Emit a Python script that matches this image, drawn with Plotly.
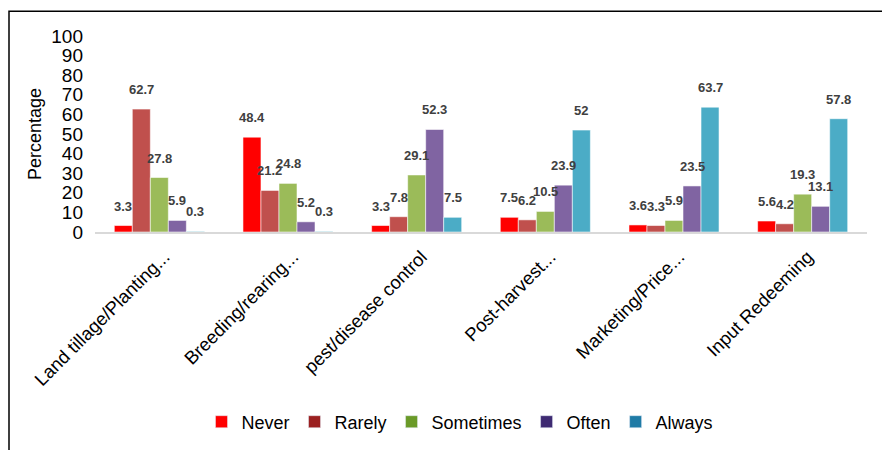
import plotly.graph_objects as go

# Extension activities and how often each frequency level was reported (%)
activities = [
    "Land tillage/Planting...",
    "Breeding/rearing...",
    "pest/disease control",
    "Post-harvest...",
    "Marketing/Price...",
    "Input Redeeming",
]
never = [3.3, 48.4, 3.3, 7.5, 3.6, 5.6]
rarely = [62.7, 21.2, 7.8, 6.2, 3.3, 4.2]
sometimes = [27.8, 24.8, 29.1, 10.5, 5.9, 19.3]
often = [5.9, 5.2, 52.3, 23.9, 23.5, 13.1]
always = [0.3, 0.3, 7.5, 52.0, 63.7, 57.8]

series_names = ["Never", "Rarely", "Sometimes", "Often", "Always"]
series_values = [never, rarely, sometimes, often, always]
bar_colors = ["#FF0000", "#C0504D", "#9BBB59", "#8064A2", "#4BACC6"]
key_colors = ["#FF0000", "#9B2020", "#6A9A28", "#3E2A72", "#1F7BA6"]

W, H = 882, 450
ML, MR, MT, MB = 95, 15, 36, 217
plot_w = W - ML - MR
bargap = 0.3
bar_px = plot_w / len(activities) * (1 - bargap) / len(series_names)

fig = go.Figure()

for k, (name, vals, col) in enumerate(zip(series_names, series_values, bar_colors)):
    fig.add_trace(go.Bar(
        x=activities, y=vals, name=name, offsetgroup=str(k),
        marker=dict(color=col, line=dict(color="rgba(255,255,255,0.55)", width=1)),
        showlegend=False,
    ))

# legend keys (share the slot of their series so they take no extra room)
for k, (name, col) in enumerate(zip(series_names, key_colors)):
    fig.add_trace(go.Bar(x=[None], y=[None], name=name, offsetgroup=str(k),
                         marker=dict(color=col)))

# value labels above each bar
annotations = []
n = len(series_names)
for i, vals in enumerate(series_values):
    for cat, v in zip(activities, vals):
        annotations.append(dict(
            x=cat, y=v, xref="x", yref="y",
            text=f"{v:g}", showarrow=False,
            xanchor="center", yanchor="bottom",
            xshift=(i - (n - 1) / 2) * bar_px, yshift=10,
            font=dict(family="Liberation Sans, Arial, sans-serif", size=13,
                      color="#404040", weight="bold"),
        ))

plot_h = H - MT - MB
fig.update_layout(
    width=W, height=H,
    margin=dict(l=ML, r=MR, t=MT, b=MB),
    paper_bgcolor="white", plot_bgcolor="white",
    barmode="group", bargap=bargap, bargroupgap=0,
    font=dict(family="Liberation Sans, Arial, sans-serif", color="#000000"),
    annotations=annotations,
    xaxis=dict(
        showline=True, linecolor="#D9D9D9", linewidth=1.5,
        ticks="", tickangle=-45, ticklabelstandoff=5, ticklabelshift=5,
        tickfont=dict(size=18.5, color="#000000"),
        showgrid=False,
    ),
    yaxis=dict(
        range=[0, 100], dtick=10, showgrid=False, zeroline=False,
        showline=False, ticks="", ticklabelstandoff=11,
        tickfont=dict(size=19, color="#000000"),
        title=dict(text="Percentage", font=dict(size=18), standoff=4),
    ),
    legend=dict(
        orientation="h", x=(460 - ML) / plot_w, xanchor="center",
        y=(H - MB - 422) / plot_h, yanchor="middle",
        font=dict(size=18, color="#000000"),
        traceorder="normal", itemclick=False,
    ),
    shapes=[dict(
        type="rect", xref="paper", yref="paper",
        x0=(9 - ML) / plot_w, x1=(W + 20 - ML) / plot_w,
        y0=(H - MB - (H + 20)) / plot_h, y1=(H - MB - 11) / plot_h,
        line=dict(color="#000000", width=1.5), fillcolor="rgba(0,0,0,0)",
        layer="below",
    )],
)

fig.write_html("out.html")
